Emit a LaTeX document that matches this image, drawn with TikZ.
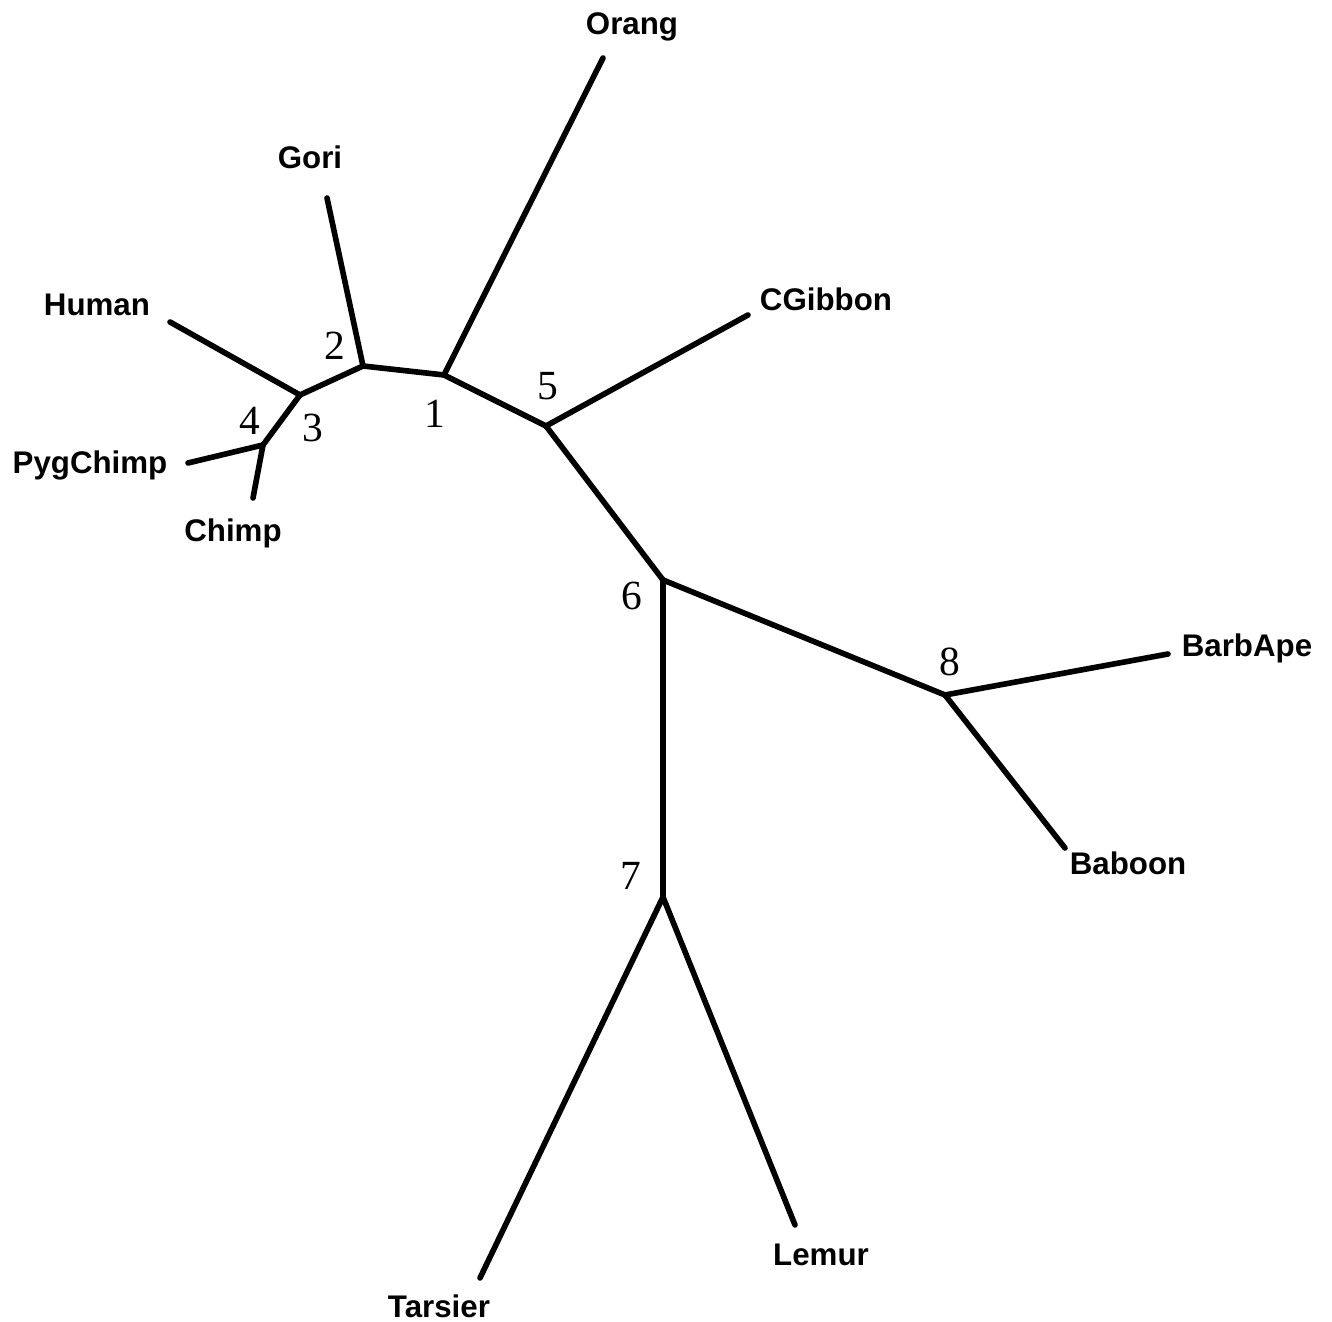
\documentclass[tikz,border=0pt]{standalone}
\usepackage{fontspec}
\setmainfont{Liberation Serif}
\setsansfont{Liberation Sans}
\begin{document}
\begin{tikzpicture}[x=0.1mm, y=-0.1mm,
    branch/.style={line width=1.6pt, line cap=round},
    taxon/.style={anchor=base, font=\sffamily\bfseries\fontsize{8.9}{10}\selectfont},
    num/.style={anchor=base, font=\fontsize{11.8}{13}\selectfont}]
    \useasboundingbox (0,0) rectangle (1332,1322);

    % internal nodes
    \coordinate (n1) at (444,375);
    \coordinate (n2) at (363,366);
    \coordinate (n3) at (300,395);
    \coordinate (n4) at (263,445);
    \coordinate (n5) at (546,426);
    \coordinate (n6) at (663,580);
    \coordinate (n7) at (663,897);
    \coordinate (n8) at (945,695);

    % leaf ends
    \coordinate (orang) at (603,58);
    \coordinate (gori) at (327,198);
    \coordinate (human) at (170,322);
    \coordinate (pygchimp) at (188,463);
    \coordinate (chimp) at (253,498);
    \coordinate (cgibbon) at (748,315);
    \coordinate (barbape) at (1168,654);
    \coordinate (baboon) at (1065,848);
    \coordinate (lemur) at (795,1225);
    \coordinate (tarsier) at (480,1278);

    \foreach \a/\b in {n1/n2, n2/n3, n3/n4, n1/n5, n5/n6, n6/n7, n6/n8,
        n1/orang, n2/gori, n3/human, n4/pygchimp, n4/chimp, n5/cgibbon,
        n8/barbape, n8/baboon, n7/lemur, n7/tarsier}
        \draw[branch] (\a) -- (\b);

    \node[taxon] (lorang) at (632,35) {Orang};
    \node[taxon] (lgori) at (310,169) {Gori};
    \node[taxon] (lhuman) at (97,316) {Human};
    \node[taxon] (lpygchimp) at (90,474) {PygChimp};
    \node[taxon] (lchimp) at (233,542) {Chimp};
    \node[taxon] (lcgibbon) at (826,311) {CGibbon};
    \node[taxon] (lbarbape) at (1247,657) {BarbApe};
    \node[taxon] (lbaboon) at (1128,875) {Baboon};
    \node[taxon] (llemur) at (821,1266) {Lemur};
    \node[taxon] (ltarsier) at (439,1317) {Tarsier};

    \node[num] (k1) at (435,428) {1};
    \node[num] (k2) at (335,360) {2};
    \node[num] (k3) at (313,442) {3};
    \node[num] (k4) at (250,435) {4};
    \node[num] (k5) at (548,400) {5};
    \node[num] (k6) at (632,610) {6};
    \node[num] (k7) at (631,890) {7};
    \node[num] (k8) at (950,676) {8};
\end{tikzpicture}
\end{document}
